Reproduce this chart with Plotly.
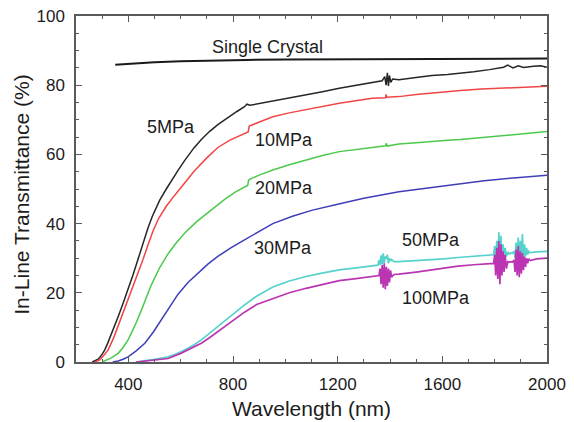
import plotly.graph_objects as go

# ---------------- data ----------------
crystal_x = [350, 400, 450, 500, 600, 700, 850, 1000, 1200, 1400, 1600, 1800, 2000]
crystal_y = [85.9, 86.2, 86.4, 86.6, 86.9, 87.1, 87.3, 87.4, 87.5, 87.6, 87.6, 87.7, 87.7]

mpa5_x = [262, 272, 285, 298, 310, 322, 335, 348, 361, 380, 399, 418, 437, 456, 475, 491, 507, 520, 545, 565, 590,
          615, 650, 679, 710, 742, 780, 815, 844, 853, 865, 880, 901, 950, 1015, 1079, 1142, 1206,
          1269, 1330, 1370, 1380, 1385, 1390, 1394, 1398, 1403, 1410, 1434, 1500, 1560, 1620, 1669,
          1720, 1780, 1834, 1850, 1870, 1890, 1910, 1949, 1975, 2000]
mpa5_y = [0, 0.3, 0.8, 2, 3.5, 5.6, 8, 10.5, 13.1, 17, 20.8, 25.2, 29.7, 34.3, 38.7, 42.0, 44.8, 46.8, 50, 52.5, 55.4,
          58.2, 61.8, 64.3, 66.6, 68.6, 70.7, 72.4, 73.8, 74.5, 74.2, 74.4, 74.8, 75.4, 76.2, 77.2, 78.1, 79.1,
          80, 80.8, 81.3, 82.5, 80, 83.6, 79.8, 82.8, 80.8, 81.8, 81.6, 82.2, 82.8, 83.1, 83.4,
          83.9, 84.5, 85.2, 85.8, 85, 85.6, 85.1, 85.5, 85.6, 85.2]

mpa10_x = [272, 291, 305, 323, 345, 360, 374, 393, 412, 434, 456, 475, 494, 515, 545, 575, 603, 628, 653,
           700, 742, 790, 825, 850, 858, 862, 875, 900, 952, 1015, 1079, 1142, 1206, 1269, 1333, 1383,
           1385, 1388, 1434, 1500, 1560, 1620, 1669, 1750, 1850, 1930, 2000]
mpa10_y = [0, 0.6, 1.8, 3.5, 7.2, 10.2, 13.1, 17, 20.8, 25.4, 29.6, 33.8, 37.8, 41.4, 45.0, 48, 50.7, 53.1, 55.3,
           59, 62.0, 64.2, 65.4, 66.3, 66.5, 68.2, 68.6, 69.5, 70.9, 72, 73, 73.9, 74.8, 75.5, 76.2, 76.4,
           77.3, 76.5, 76.7, 77.3, 77.8, 78.2, 78.5, 78.9, 79.2, 79.4, 79.7]

mpa20_x = [300, 310, 335, 361, 380, 399, 425, 450, 470, 488, 520, 552, 585, 615, 660, 711, 768, 810, 844,
           856, 860, 869, 900, 952, 1015, 1079, 1142, 1206, 1269, 1333, 1383, 1386, 1389, 1434, 1500,
           1560, 1620, 1669, 1750, 1850, 1930, 2000]
mpa20_y = [0, 0.3, 1.2, 2.5, 4.2, 6.4, 10.5, 15, 18.8, 22.3, 27.3, 31.3, 34.6, 37.2, 40.5, 43.6, 47.0, 49.2, 50.6,
           51.0, 52.6, 53.0, 54, 55.5, 57, 58.4, 59.7, 60.8, 61.5, 62, 62.5, 63.2, 62.4, 63, 63.4,
           63.8, 64.1, 64.3, 64.9, 65.6, 66.1, 66.6]

mpa30_x = [340, 361, 380, 399, 430, 463, 495, 526, 558, 590, 628, 666, 704, 742, 790, 844, 900, 952,
           1030, 1104, 1200, 1300, 1434, 1550, 1669, 1760, 1860, 1930, 2000]
mpa30_y = [0, 0.3, 0.8, 1.5, 3.2, 5.4, 8.6, 12.1, 16.0, 19.6, 23.0, 25.8, 28.3, 30.5, 32.9, 35.3, 37.8, 40.0,
           42.2, 43.9, 45.6, 47.3, 49.2, 50.4, 51.6, 52.4, 53.1, 53.5, 54]

mpa50_x = [430, 460, 500, 552, 585, 615, 650, 679, 710, 742, 790, 825, 844, 890, 952, 1015, 1079, 1140,
           1206, 1270, 1333, 1354,
           1358, 1362, 1366, 1370, 1374, 1378, 1382, 1386, 1390, 1394, 1398, 1402, 1406,
           1415, 1434, 1500, 1560, 1606, 1660, 1720, 1784,
           1796, 1800, 1804, 1808, 1812, 1816, 1820, 1824, 1828, 1832, 1836, 1840, 1845, 1850, 1856,
           1862, 1868, 1874, 1878, 1882, 1886, 1890, 1894, 1898, 1902, 1906, 1910, 1914, 1918, 1922,
           1926, 1930, 1936, 1960, 2000]
mpa50_y = [0, 0.3, 0.8, 1.5, 2.4, 3.5, 4.9, 6.4, 8.3, 10.2, 13.3, 15.4, 16.5, 19.0, 21.7, 23.4, 24.7, 25.7,
           26.6, 27.2, 27.7, 28.0,
           29.5, 28, 30.8, 28.2, 31.4, 28.6, 30.5, 29.8, 31, 28.5, 30, 29.2, 29.6,
           29.0, 29.0, 29.3, 29.5, 29.8, 30.2, 30.6, 30.9,
           31, 33.5, 29, 35, 28.5, 37.5, 28, 36.5, 29.5, 34, 30, 33, 30.5, 31.8, 31.2,
           31.5, 31.4, 32, 30, 34.5, 29, 36, 28.5, 35, 30, 37, 29, 34, 30.5, 33,
           31, 32, 31.6, 31.8, 32.0]

mpa100_x = [430, 460, 500, 552, 600, 650, 679, 710, 742, 790, 825, 844, 890, 952, 1015, 1079, 1140,
            1206, 1270, 1333, 1354,
            1358, 1362, 1366, 1370, 1374, 1378, 1382, 1386, 1390, 1394, 1398, 1402, 1406,
            1415, 1434, 1500, 1560, 1606, 1660, 1720, 1784,
            1796, 1800, 1804, 1808, 1812, 1816, 1820, 1824, 1828, 1832, 1836, 1840, 1845, 1850, 1856,
            1862, 1868, 1874, 1878, 1882, 1886, 1890, 1894, 1898, 1902, 1906, 1910, 1914, 1918, 1922,
            1926, 1930, 1936, 1960, 2000]
mpa100_y = [0, 0.2, 0.6, 1.0, 2.5, 4.2, 5.4, 7, 8.8, 11.6, 13.4, 14.4, 16.6, 18.4, 20, 21.3, 22.4,
            23.5, 24.1, 24.7, 24.9,
            25, 27, 22.5, 28, 21.5, 28.5, 21, 27.5, 22, 27, 23, 26.5, 24.5,
            25.3, 25.4, 26, 26.6, 27.2, 27.7, 28.1, 28.5,
            28.5, 31, 25, 33, 24, 35, 22.5, 34, 25, 32, 26, 31, 27, 29, 28.8,
            29, 28.9, 29.5, 26, 32.5, 25, 33.5, 24.5, 32, 25.5, 31.5, 26.5, 30.5, 27.5, 30,
            28.5, 29.8, 29.3, 29.8, 30.0]

series = [
    ("Single Crystal", crystal_x, crystal_y, "#1a1a1a", 2.0),
    ("5MPa", mpa5_x, mpa5_y, "#262626", 1.5),
    ("10MPa", mpa10_x, mpa10_y, "#f04545", 1.5),
    ("20MPa", mpa20_x, mpa20_y, "#4cc84c", 1.5),
    ("30MPa", mpa30_x, mpa30_y, "#3e3eb8", 1.5),
    ("50MPa", mpa50_x, mpa50_y, "#55d2cc", 1.7),
    ("100MPa", mpa100_x, mpa100_y, "#bb35b3", 1.7),
]

label_text = ["Single Crystal", "5MPa", "10MPa", "20MPa", "30MPa", "50MPa", "100MPa"]
label_x = [932, 564, 996, 996, 990, 1555, 1577]
label_y = [91.1, 68, 64.2, 50.2, 32.9, 35.3, 18.4]

x_ticks = [400, 800, 1200, 1600, 2000]
y_ticks = [0, 20, 40, 60, 80, 100]
x_title = "Wavelength (nm)"
y_title = "In-Line Transmittance (%)"

FONT = "Liberation Sans, Arial, Helvetica, sans-serif"
TXT = "#1c1c1c"
AX = "#5a5a5a"

fig = go.Figure()
for name, xs, ys, col, w in series:
    fig.add_trace(go.Scatter(x=xs, y=ys, mode="lines", name=name,
                             line=dict(color=col, width=w, shape="linear"),
                             showlegend=False, hoverinfo="skip"))

for t, x, y in zip(label_text, label_x, label_y):
    fig.add_annotation(x=x, y=y, text=t, showarrow=False, xanchor="center", yanchor="middle",
                       font=dict(family=FONT, size=18, color=TXT))

# axis titles placed in paper coordinates
fig.add_annotation(xref="paper", yref="paper", x=0.5, y=-0.133, text=x_title, showarrow=False,
                   xanchor="center", yanchor="middle", font=dict(family=FONT, size=21, color=TXT))
fig.add_annotation(xref="paper", yref="paper", x=-0.115, y=0.483, text=y_title, showarrow=False,
                   textangle=-90, xanchor="center", yanchor="middle",
                   font=dict(family=FONT, size=21, color=TXT))

axis_common = dict(
    showline=True, linecolor=AX, linewidth=1.5, mirror="allticks",
    ticks="inside", ticklen=6, tickwidth=1.2, tickcolor=AX,
    showgrid=False, zeroline=False, automargin=False,
    tickfont=dict(family=FONT, size=17, color=TXT),
)

fig.update_xaxes(range=[200, 2000], tickvals=x_ticks, ticktext=[str(v) for v in x_ticks],
                 ticklabelstandoff=6,
                 minor=dict(dtick=100, tick0=0, ticks="inside", ticklen=3, tickcolor=AX, showgrid=False),
                 **axis_common)
fig.update_yaxes(range=[0, 100], tickvals=y_ticks, ticktext=[str(v) for v in y_ticks],
                 ticklabelstandoff=6,
                 minor=dict(dtick=5, tick0=0, ticks="inside", ticklen=3, tickcolor=AX, showgrid=False),
                 **axis_common)

fig.update_layout(
    width=574, height=422,
    margin=dict(l=76, r=27, t=16, b=60),
    paper_bgcolor="white", plot_bgcolor="white",
    font=dict(family=FONT, color=TXT),
)

fig.write_html("out.html")
